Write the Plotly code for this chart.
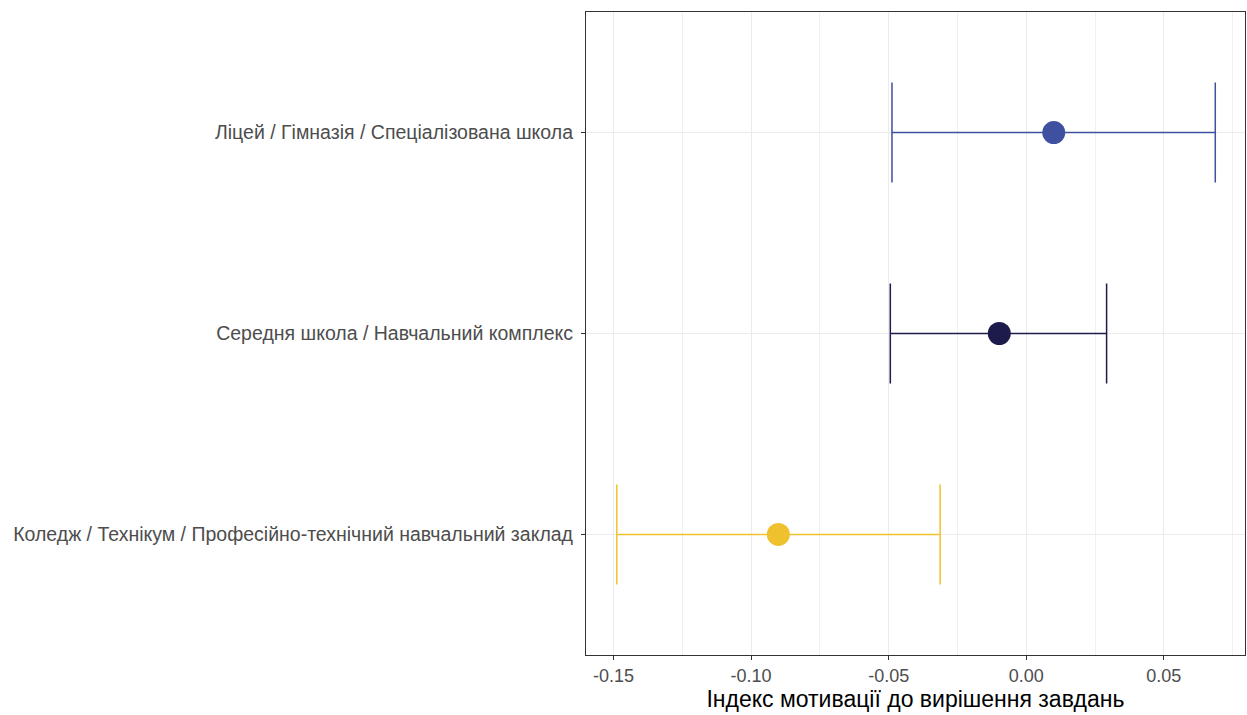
import plotly.graph_objects as go

categories = [
    "Коледж / Технікум / Професійно-технічний навчальний заклад",
    "Середня школа / Навчальний комплекс",
    "Ліцей / Гімназія / Спеціалізована школа",
]
means = [-0.0901, -0.0098, 0.0100]
lower = [-0.1488, -0.0494, -0.0488]
upper = [-0.0313, 0.0292, 0.0687]
colors = ["#EFC12F", "#1C1B4B", "#3F50A1"]
x_tickvals = [-0.15, -0.10, -0.05, 0.00, 0.05]
x_ticktext = ["-0.15", "-0.10", "-0.05", "0.00", "0.05"]
x_title = "Індекс мотивації до вирішення завдань"

FONT = "Liberation Sans, Arial, sans-serif"

fig = go.Figure()
for cat, m, lo, up, c in zip(categories, means, lower, upper, colors):
    fig.add_trace(go.Scatter(
        x=[m], y=[cat], mode="markers",
        marker=dict(color=c, size=23, line=dict(width=0)),
        error_x=dict(type="data", symmetric=False, array=[up - m], arrayminus=[m - lo],
                     color=c, thickness=1.5, width=50),
        showlegend=False,
    ))

axis_common = dict(
    showline=True, mirror=True, linecolor="#333333", linewidth=1.2,
    ticks="outside", ticklen=4, tickcolor="#333333", tickwidth=1.2,
    gridcolor="#EBEBEB", gridwidth=1, zeroline=False,
)

fig.update_xaxes(
    **axis_common,
    range=[-0.160, 0.0795],
    tickvals=x_tickvals, ticktext=x_ticktext,
    tickfont=dict(family=FONT, size=18, color="#4D4D4D"),
    minor=dict(dtick=0.025, tick0=-0.175, showgrid=True, gridcolor="#F0F0F0", gridwidth=0.7, ticks=""),
    title=dict(text=x_title, font=dict(family=FONT, size=23, color="#000000"), standoff=4),
)
fig.update_yaxes(
    **axis_common,
    type="category", categoryorder="array", categoryarray=categories,
    range=[-0.6, 2.6],
    tickfont=dict(family=FONT, size=19.5, color="#4D4D4D"),
    ticklabelstandoff=4,
)

fig.update_layout(
    width=1247, height=715,
    margin=dict(l=586, r=2, t=12, b=60, autoexpand=False),
    plot_bgcolor="white", paper_bgcolor="white",
)

fig.write_html(
    "out.html",
    config={"displayModeBar": False},
    post_script="document.body.style.margin='0';document.body.style.overflow='hidden';",
)
